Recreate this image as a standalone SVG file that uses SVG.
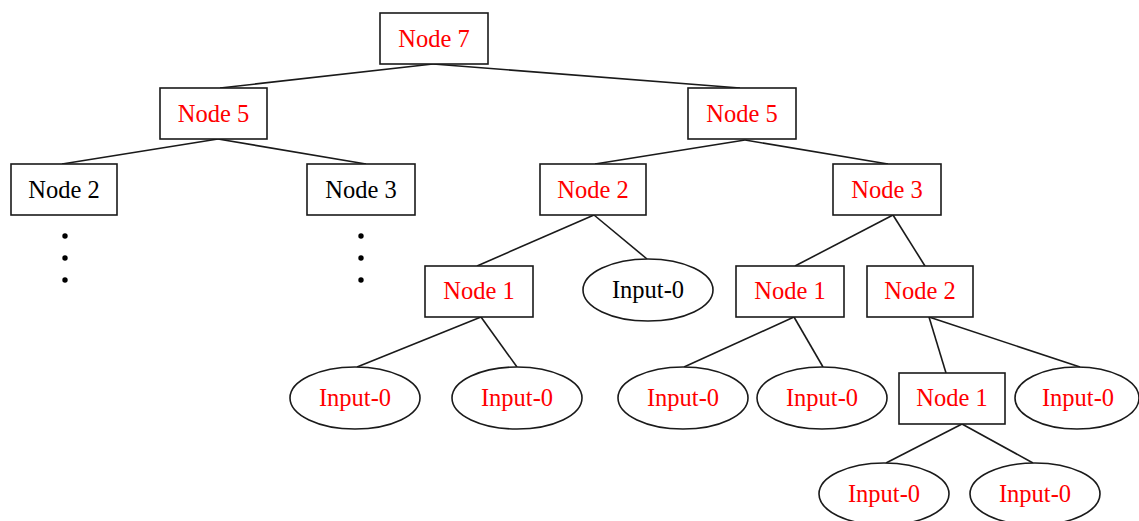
<svg xmlns="http://www.w3.org/2000/svg" width="1139" height="521" viewBox="0 0 1139 521">
<style>
rect, ellipse { fill: #fff; stroke: #1a1a1a; stroke-width: 1.6; }
.edges line { stroke: #1a1a1a; stroke-width: 1.6; }
text { font-family: "Liberation Serif", "Times New Roman", serif; font-size: 24.5px; text-anchor: middle; }
.r { fill: #ff0000; }
.k { fill: #000; }
.dot { fill: #000; }
</style>
<g id="connectors" class="edges">
<line x1="433" y1="64" x2="220" y2="88"/>
<line x1="433" y1="64" x2="740" y2="88"/>
<line x1="218" y1="139" x2="62" y2="164"/>
<line x1="218" y1="139" x2="366" y2="164"/>
<line x1="745" y1="140" x2="595" y2="164"/>
<line x1="745" y1="140" x2="888" y2="164"/>
<line x1="594" y1="215" x2="477" y2="266"/>
<line x1="594" y1="215" x2="647" y2="259"/>
<line x1="481" y1="317" x2="357" y2="367"/>
<line x1="481" y1="317" x2="517" y2="367"/>
<line x1="893" y1="215" x2="795" y2="266"/>
<line x1="893" y1="215" x2="925" y2="266"/>
<line x1="794" y1="317" x2="684" y2="367"/>
<line x1="794" y1="317" x2="823" y2="367"/>
<line x1="929" y1="317" x2="946" y2="373"/>
<line x1="929" y1="317" x2="1080" y2="367"/>
<line x1="962" y1="424" x2="886" y2="463"/>
<line x1="962" y1="424" x2="1033" y2="463"/>
</g>
<g id="n7"><rect x="380" y="13" width="108" height="51"/><text class="r" x="434" y="47">Node 7</text></g>
<g id="n5l"><rect x="160" y="88" width="107" height="51"/><text class="r" x="213.5" y="122">Node 5</text></g>
<g id="n5r"><rect x="688" y="88" width="108" height="51"/><text class="r" x="742" y="122">Node 5</text></g>
<g id="n2l"><rect x="11" y="164" width="106" height="51"/><text class="k" x="64" y="198">Node 2</text></g>
<g id="n3l"><rect x="307" y="164" width="108" height="51"/><text class="k" x="361" y="198">Node 3</text></g>
<g id="dots-l"><circle class="dot" cx="65" cy="236" r="2.7"/><circle class="dot" cx="65" cy="258" r="2.7"/><circle class="dot" cx="65" cy="280" r="2.7"/></g>
<g id="dots-r"><circle class="dot" cx="361" cy="236" r="2.7"/><circle class="dot" cx="361" cy="258" r="2.7"/><circle class="dot" cx="361" cy="280" r="2.7"/></g>
<g id="n2r"><rect x="540" y="164" width="106" height="51"/><text class="r" x="593" y="198">Node 2</text></g>
<g id="n3r"><rect x="833" y="164" width="108" height="51"/><text class="r" x="887" y="198">Node 3</text></g>
<g id="n1a"><rect x="425" y="266" width="108" height="51"/><text class="r" x="479" y="299">Node 1</text></g>
<g id="in-a"><ellipse cx="648" cy="290" rx="65" ry="31"/><text class="k" x="648" y="298">Input-0</text></g>
<g id="n1b"><rect x="736" y="266" width="108" height="51"/><text class="r" x="790" y="299">Node 1</text></g>
<g id="n2b"><rect x="867" y="266" width="106" height="51"/><text class="r" x="920" y="299">Node 2</text></g>
<g id="in-b"><ellipse cx="355" cy="398" rx="65" ry="31"/><text class="r" x="355" y="406">Input-0</text></g>
<g id="in-c"><ellipse cx="517" cy="398" rx="65" ry="31"/><text class="r" x="517" y="406">Input-0</text></g>
<g id="in-d"><ellipse cx="683" cy="398" rx="65" ry="31"/><text class="r" x="683" y="406">Input-0</text></g>
<g id="in-e"><ellipse cx="822" cy="398" rx="65" ry="31"/><text class="r" x="822" y="406">Input-0</text></g>
<g id="n1c"><rect x="899" y="373" width="106" height="51"/><text class="r" x="952" y="406">Node 1</text></g>
<g id="in-f"><ellipse cx="1077" cy="398" rx="62" ry="31"/><text class="r" x="1078" y="406">Input-0</text></g>
<g id="in-g"><ellipse cx="884" cy="494" rx="65" ry="31"/><text class="r" x="884" y="502">Input-0</text></g>
<g id="in-h"><ellipse cx="1035" cy="494" rx="65" ry="31"/><text class="r" x="1035" y="502">Input-0</text></g>
</svg>
